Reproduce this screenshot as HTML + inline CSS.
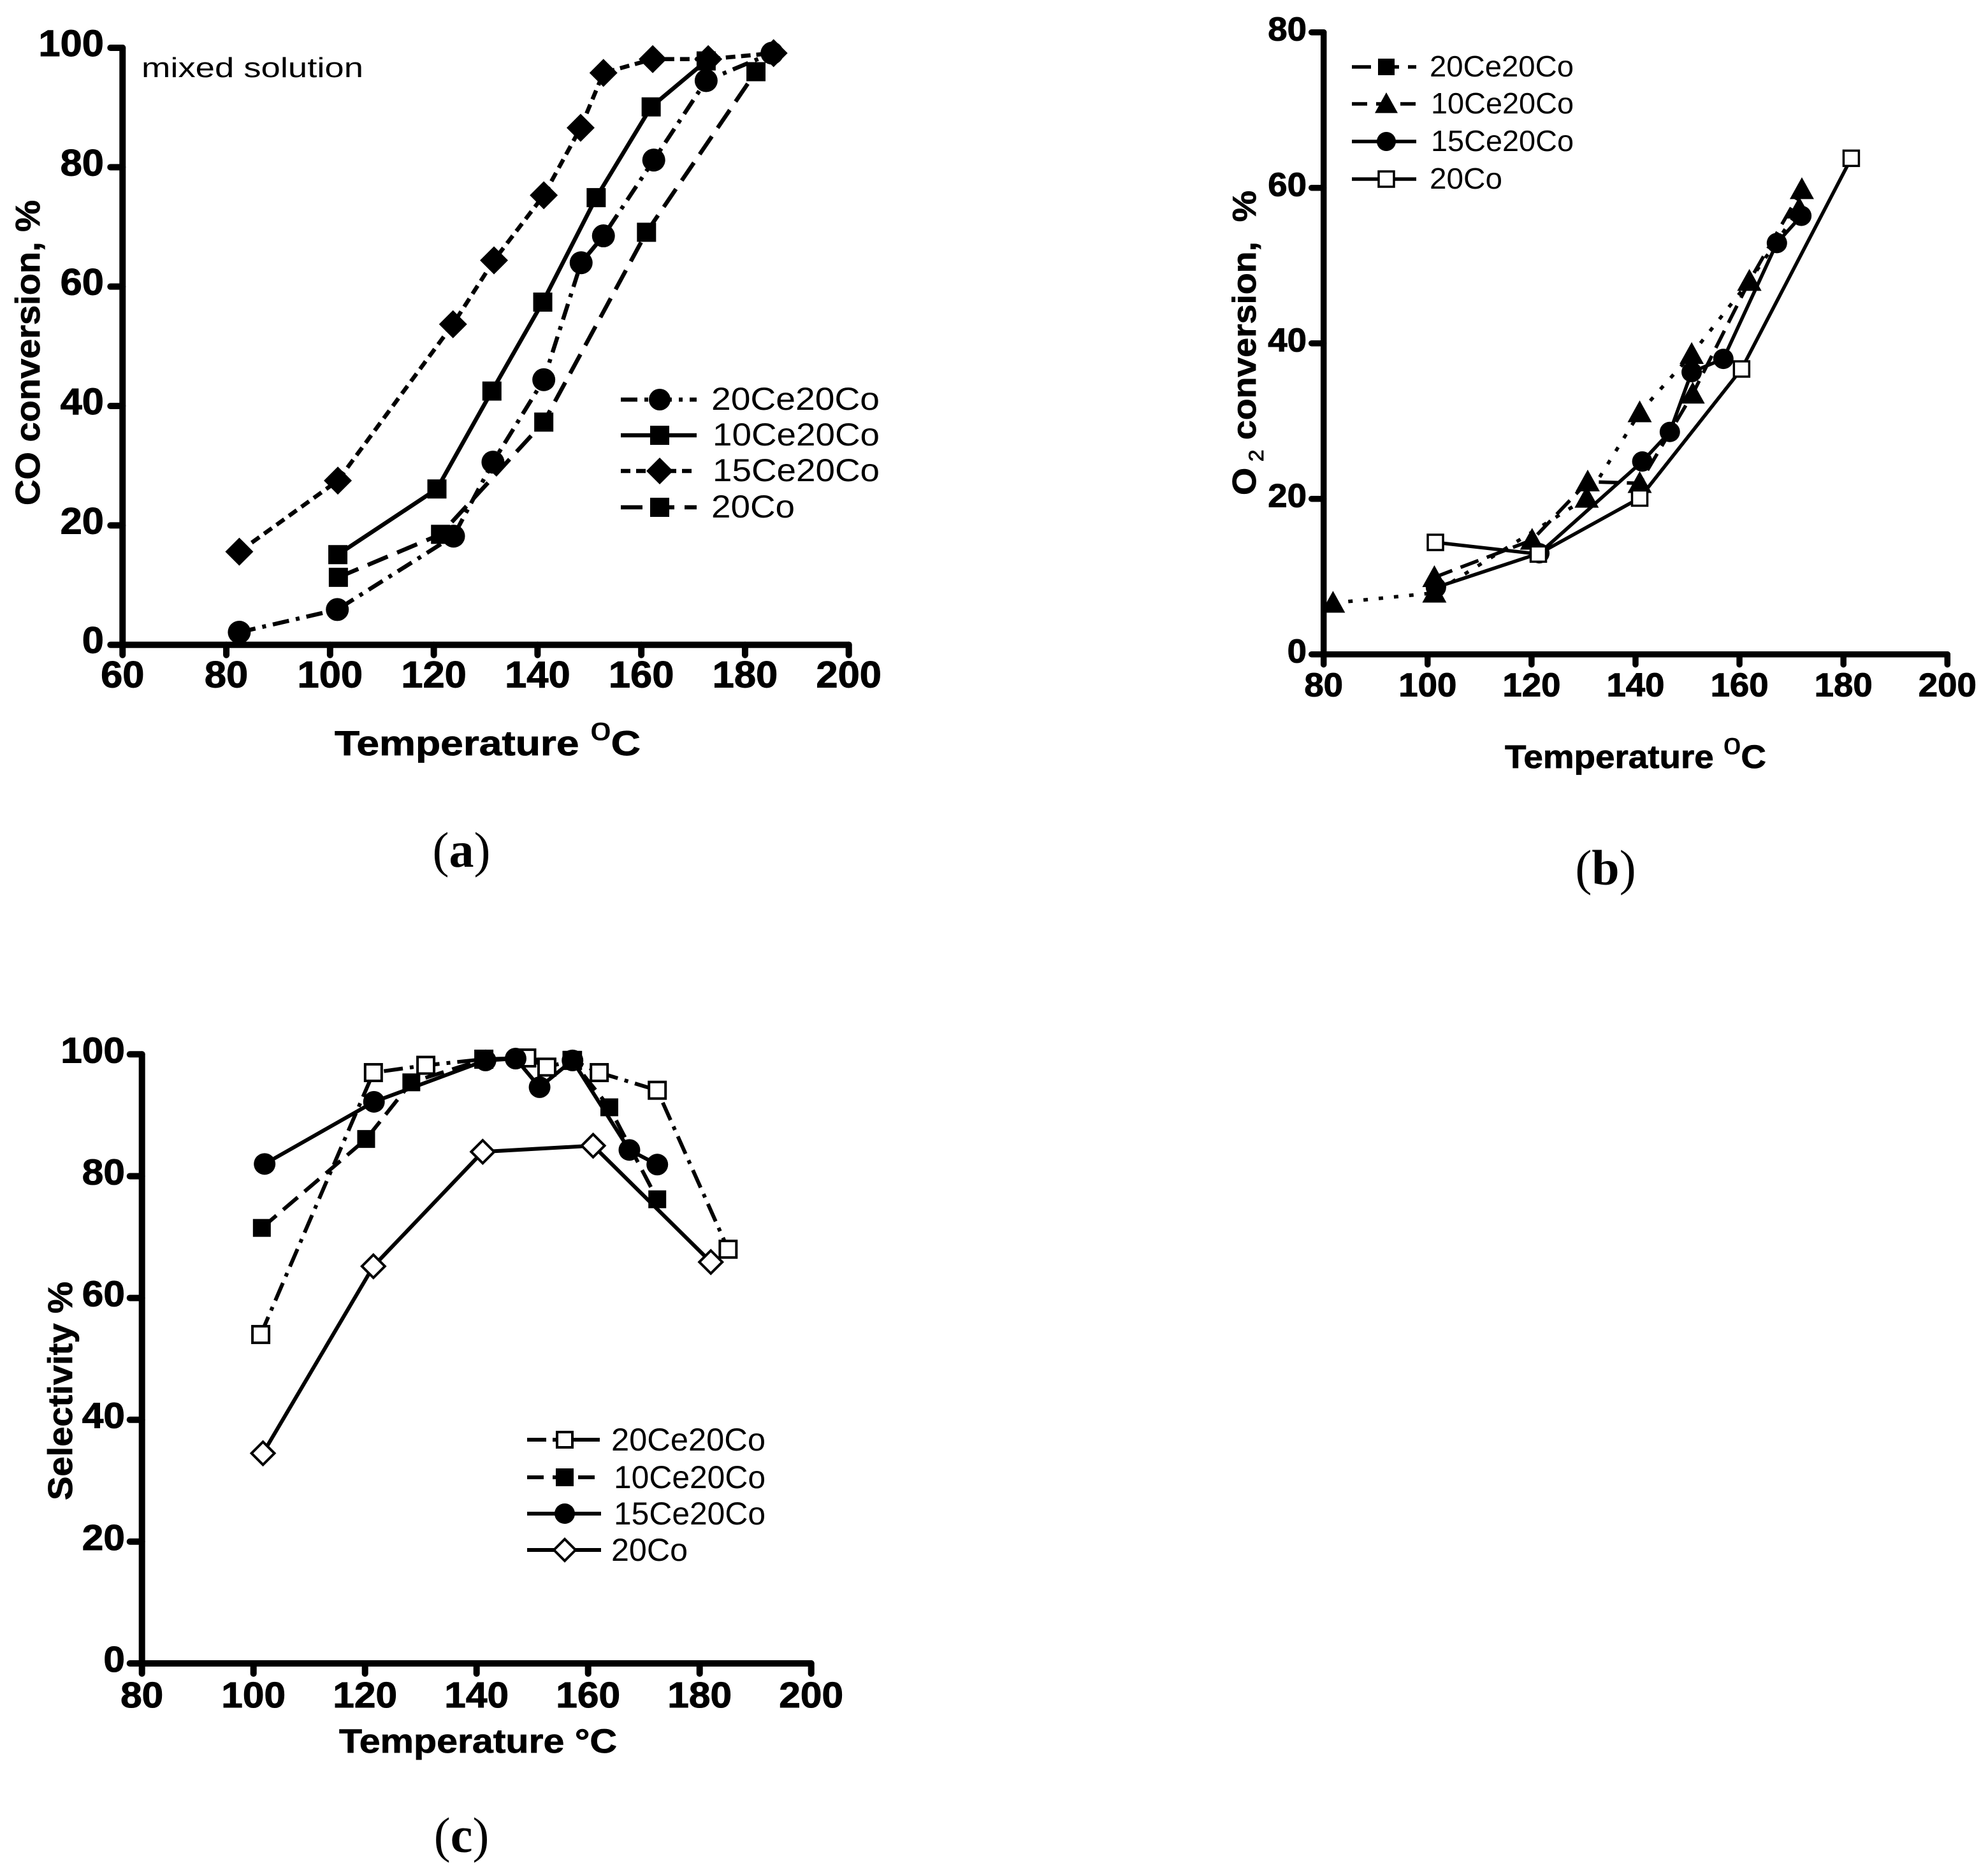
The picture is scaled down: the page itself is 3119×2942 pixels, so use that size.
<!DOCTYPE html>
<html lang="en">
<head>
<meta charset="utf-8">
<title>CO conversion, O2 conversion and selectivity charts</title>
<style>
html,body{margin:0;padding:0;background:#fff;}
svg{display:block;}
text{fill:#000;font-family:"Liberation Sans",sans-serif;}
.title{font-weight:bold;stroke:#000;stroke-width:0.8px;}
.leg{font-weight:normal;}
.cap{font-family:"Liberation Serif",serif;font-size:78px;}
</style>
</head>
<body>
<svg id="figure" xmlns="http://www.w3.org/2000/svg" width="3119" height="2942" viewBox="0 0 3119 2942">
  <rect x="0" y="0" width="3119" height="2942" fill="#fff"/>

  <g id="panel-a">
    <text x="222" y="121" font-size="44" textLength="348" lengthAdjust="spacingAndGlyphs">mixed solution</text>
    <text class="title" x="525" y="1185" font-size="55" textLength="480" lengthAdjust="spacingAndGlyphs">Temperature <tspan dy="-24" font-weight="normal" font-size="50">o</tspan><tspan dy="24">C</tspan></text>
    <text class="title" transform="translate(62,793) rotate(-90)" font-size="54" textLength="479" lengthAdjust="spacingAndGlyphs">CO conversion, %</text>
    <text class="cap" x="724" y="1360" text-anchor="middle">(<tspan font-weight="bold">a</tspan>)</text>
    <g>
      <text class="leg" x="1116" y="643" font-size="50" textLength="264" lengthAdjust="spacingAndGlyphs">20Ce20Co</text>
      <text class="leg" x="1118" y="699" font-size="50" textLength="262" lengthAdjust="spacingAndGlyphs">10Ce20Co</text>
      <text class="leg" x="1118" y="755" font-size="50" textLength="262" lengthAdjust="spacingAndGlyphs">15Ce20Co</text>
      <text class="leg" x="1116" y="812" font-size="50" textLength="131" lengthAdjust="spacingAndGlyphs">20Co</text>
    </g>
  </g>

  <g id="panel-b">
    <text class="title" x="2361" y="1205" font-size="51" textLength="410" lengthAdjust="spacingAndGlyphs">Temperature <tspan dy="-22" font-weight="normal" font-size="46">o</tspan><tspan dy="22">C</tspan></text>
    <text class="title" transform="translate(1970,777) rotate(-90)" font-size="52" textLength="478" lengthAdjust="spacingAndGlyphs" xml:space="preserve">O<tspan dy="12" font-size="32" font-weight="normal"> 2</tspan><tspan dy="-12"> conversion,  %</tspan></text>
    <text class="cap" x="2519" y="1388" text-anchor="middle">(<tspan font-weight="bold">b</tspan>)</text>
    <g>
      <text class="leg" x="2243" y="120" font-size="46" textLength="226" lengthAdjust="spacingAndGlyphs">20Ce20Co</text>
      <text class="leg" x="2245" y="178" font-size="46" textLength="224" lengthAdjust="spacingAndGlyphs">10Ce20Co</text>
      <text class="leg" x="2245" y="237" font-size="46" textLength="224" lengthAdjust="spacingAndGlyphs">15Ce20Co</text>
      <text class="leg" x="2243" y="296" font-size="46" textLength="114" lengthAdjust="spacingAndGlyphs">20Co</text>
    </g>
  </g>

  <g id="panel-c">
    <text class="title" x="532" y="2750" font-size="53" textLength="436" lengthAdjust="spacingAndGlyphs">Temperature °C</text>
    <text class="title" transform="translate(113,2354) rotate(-90)" font-size="54" textLength="343" lengthAdjust="spacingAndGlyphs">Selectivity %</text>
    <text class="cap" x="724" y="2906" text-anchor="middle">(<tspan font-weight="bold">c</tspan>)</text>
    <g>
      <text class="leg" x="959" y="2276" font-size="50" textLength="242" lengthAdjust="spacingAndGlyphs">20Ce20Co</text>
      <text class="leg" x="963" y="2335" font-size="50" textLength="238" lengthAdjust="spacingAndGlyphs">10Ce20Co</text>
      <text class="leg" x="963" y="2392" font-size="50" textLength="238" lengthAdjust="spacingAndGlyphs">15Ce20Co</text>
      <text class="leg" x="959" y="2449" font-size="50" textLength="120" lengthAdjust="spacingAndGlyphs">20Co</text>
    </g>
  </g>
</svg>

<script>
// ---- Panel (a) data ----
const aXTicks = [60, 80, 100, 120, 140, 160, 180, 200];
const aYTicks = [0, 20, 40, 60, 80, 100];
const a20CeTemp = [82.5, 101.4, 123.8, 131.4, 141.2, 148.4, 152.7, 162.4, 172.5, 185.2];
const a20CeConv = [2.1, 5.9, 18.2, 30.6, 44.4, 64, 68.5, 81.2, 94.5, 99.1];
const a10CeTemp = [101.5, 120.6, 131.2, 141, 151.3, 161.9, 172.5];
const a10CeConv = [15.1, 26.1, 42.5, 57.4, 74.9, 90.1, 97.8];
const a15CeTemp = [82.5, 101.5, 123.7, 131.6, 141.2, 148.3, 152.7, 162.2, 172.9, 185.5];
const a15CeConv = [15.6, 27.5, 53.7, 64.4, 75.3, 86.6, 95.8, 98.1, 98.1, 99.1];
const a20CoTemp = [101.6, 121.3, 141.2, 161, 182.1];
const a20CoConv = [11.3, 18.5, 37.3, 69.1, 96];

// ---- Panel (b) data ----
const bXTicks = [80, 100, 120, 140, 160, 180, 200];
const bYTicks = [0, 20, 40, 60, 80];
const b20CeTemp = [101.3, 120.1, 130.8, 140.8, 151, 161.9, 172];
const b20CeConv = [9.9, 14.7, 22.2, 22, 33.5, 48, 59.8];
const b10CeTemp = [81.8, 101.3, 130.6, 140.8, 150.8, 161.9, 171.5];
const b10CeConv = [6.6, 7.9, 20.1, 31.1, 38.6, 48, 57.3];
const b15CeTemp = [101.6, 121.5, 141.3, 146.6, 150.8, 156.9, 167.2, 171.9];
const b15CeConv = [8.6, 13, 24.8, 28.6, 36.3, 38, 52.9, 56.4];
const b20CoTemp = [101.5, 121.3, 140.8, 160.4, 181.5];
const b20CoConv = [14.4, 12.9, 20.1, 36.7, 63.8];

// ---- Panel (c) data ----
const cXTicks = [80, 100, 120, 140, 160, 180, 200];
const cYTicks = [0, 20, 40, 60, 80, 100];
const c20CeTemp = [101.3, 121.5, 130.9, 141.3, 149, 152.6, 157.2, 162, 172.4, 185.1];
const c20CeSel = [54, 97, 98.2, 99.2, 99.4, 97.9, 99, 97, 94.1, 68];
const c10CeTemp = [101.5, 120.2, 128.3, 141.3, 157, 163.8, 172.4];
const c10CeSel = [71.5, 86.1, 95.4, 99.2, 99.1, 91.3, 76.2];
const c15CeTemp = [102, 121.6, 141.6, 147, 151.3, 157.2, 167.4, 172.4];
const c15CeSel = [82, 92.2, 99, 99.3, 94.6, 99, 84.3, 81.9];
const c20CoTemp = [101.7, 121.5, 141.1, 160.9, 182];
const c20CoSel = [34.5, 65.2, 84, 85, 65.9];

const SVGNS = 'http://www.w3.org/2000/svg';
function make(tag, attrs, parent) {
  const el = document.createElementNS(SVGNS, tag);
  for (const k in attrs) el.setAttribute(k, attrs[k]);
  parent.appendChild(el);
  return el;
}

function drawMarker(kind, cx, cy, size, sw, parent) {
  let el;
  if (kind === 'circle') {
    el = make('ellipse', {cx: cx, cy: cy, rx: size, ry: size, fill: '#000'}, parent);
  } else if (kind === 'square' || kind === 'open-square') {
    const open = kind === 'open-square';
    el = make('rect', {x: cx - size, y: cy - size, width: 2 * size, height: 2 * size,
      fill: open ? '#fff' : '#000', stroke: open ? '#000' : 'none', 'stroke-width': open ? sw : 0}, parent);
  } else if (kind === 'diamond' || kind === 'open-diamond') {
    const open = kind === 'open-diamond';
    el = make('polygon', {points: (cx - size) + ',' + cy + ' ' + cx + ',' + (cy - size) + ' ' + (cx + size) + ',' + cy + ' ' + cx + ',' + (cy + size),
      fill: open ? '#fff' : '#000', stroke: open ? '#000' : 'none', 'stroke-width': open ? sw : 0}, parent);
  } else {
    el = make('polygon', {points: (cx - size) + ',' + (cy + size * 0.8) + ' ' + cx + ',' + (cy - size) + ' ' + (cx + size) + ',' + (cy + size * 0.8), fill: '#000'}, parent);
  }
  
  
  return el;
}

function drawPanel(p) {
  const root = document.getElementById(p.id);
  const sx = v => p.x0 + (v - p.xTicks[0]) / (p.xTicks[p.xTicks.length - 1] - p.xTicks[0]) * (p.x1 - p.x0);
  const sy = v => p.y0 - (v - p.yTicks[0]) / (p.yTicks[p.yTicks.length - 1] - p.yTicks[0]) * (p.y0 - p.y1);
  const labelLen = v => String(v).length * 0.556 * p.tickFont * p.tickStretch;

  // axes
  const xAxis = make('line', {x1: p.x0, y1: p.y0, x2: p.x1, y2: p.y0, stroke: '#000', 'stroke-width': p.axisW, 'stroke-linecap': 'round'}, root);
  
  
  const yAxis = make('line', {x1: p.x0, y1: p.y0, x2: p.x0, y2: p.y1, stroke: '#000', 'stroke-width': p.axisW, 'stroke-linecap': 'round'}, root);
  
  

  p.xTicks.forEach(v => {
    const t = make('line', {x1: sx(v), y1: p.y0, x2: sx(v), y2: p.y0 + 16, stroke: '#000', 'stroke-width': p.axisW, 'stroke-linecap': 'round'}, root);
    
    
    const l = make('text', {x: sx(v) - labelLen(v) / 2, y: p.y0 + p.xLabelDy, 'font-size': p.tickFont, 'font-weight': 'bold', stroke: '#000', 'stroke-width': 1, textLength: labelLen(v), lengthAdjust: 'spacingAndGlyphs'}, root);
    l.textContent = v;
    
    
  });
  p.yTicks.forEach(v => {
    const t = make('line', {x1: p.x0, y1: sy(v), x2: p.x0 - 19, y2: sy(v), stroke: '#000', 'stroke-width': p.axisW, 'stroke-linecap': 'round'}, root);
    
    
    const l = make('text', {x: p.yLabelX - labelLen(v), y: sy(v) + 13, 'font-size': p.tickFont, 'font-weight': 'bold', stroke: '#000', 'stroke-width': 1, textLength: labelLen(v), lengthAdjust: 'spacingAndGlyphs'}, root);
    l.textContent = v;
    
    
  });

  // series lines first, then markers
  p.series.forEach(s => {
    const pts = s.x.map((v, i) => sx(v) + ',' + sy(s.y[i])).join(' ');
    const line = make('polyline', {points: pts, fill: 'none', stroke: '#000', 'stroke-width': p.lineW, 'stroke-dasharray': s.dash || 'none', 'stroke-linejoin': 'round'}, root);
    
    
  });
  p.series.forEach(s => {
    const g = make('g', {}, root);
    
    
    s.x.forEach((v, i) => drawMarker(s.marker, sx(v), sy(s.y[i]), s.size, p.openW, g));
  });

  // legend swatches
  p.legendRows.forEach((row, i) => {
    const s = p.legendStyle[i];
    const ln = make('line', {x1: p.legX0, y1: row, x2: p.legX1, y2: row, stroke: '#000', 'stroke-width': p.lineW, 'stroke-dasharray': s.dash || 'none'}, root);
    
    
    drawMarker(s.marker, p.legM, row, s.size, p.openW, root);
  });
}

drawPanel({
  id: 'panel-a', x0: 192.3, x1: 1331.7, y0: 1011.7, y1: 75, axisW: 10, lineW: 6.5, openW: 4,
  xTicks: aXTicks, yTicks: aYTicks, tickFont: 58, tickStretch: 1.06, xLabelDy: 67, yLabelX: 163,
  series: [
    {key: '20co', x: a20CoTemp, y: a20CoConv, marker: 'square', size: 15, dash: '34 16'},
    {key: '15ce20co', x: a15CeTemp, y: a15CeConv, marker: 'diamond', size: 22, dash: '15 9'},
    {key: '10ce20co', x: a10CeTemp, y: a10CeConv, marker: 'square', size: 15, dash: ''},
    {key: '20ce20co', x: a20CeTemp, y: a20CeConv, marker: 'circle', size: 18, dash: '26 11 6 11'}
  ],
  legendRows: [627, 683, 739, 796], legX0: 974, legX1: 1093, legM: 1035,
  legendStyle: [
    {marker: 'circle', size: 17, dash: '26 11 6 11'},
    {marker: 'square', size: 15, dash: ''},
    {marker: 'diamond', size: 21, dash: '15 9'},
    {marker: 'square', size: 15, dash: '34 16'}
  ]
});

drawPanel({
  id: 'panel-b', x0: 2076.7, x1: 3055.3, y0: 1026.7, y1: 50.7, axisW: 9.5, lineW: 5.5, openW: 3.5,
  xTicks: bXTicks, yTicks: bYTicks, tickFont: 52, tickStretch: 1.05, xLabelDy: 66, yLabelX: 2050,
  series: [
    {key: '20ce20co', x: b20CeTemp, y: b20CeConv, marker: 'triangle', size: 19, dash: '30 14'},
    {key: '10ce20co', x: b10CeTemp, y: b10CeConv, marker: 'triangle', size: 19, dash: '7 17'},
    {key: '15ce20co', x: b15CeTemp, y: b15CeConv, marker: 'circle', size: 16, dash: ''},
    {key: '20co', x: b20CoTemp, y: b20CoConv, marker: 'open-square', size: 12, dash: ''}
  ],
  legendRows: [105, 163, 222, 281], legX0: 2121, legX1: 2222, legM: 2175,
  legendStyle: [
    {marker: 'square', size: 13, dash: '30 14'},
    {marker: 'triangle', size: 18, dash: '24 14'},
    {marker: 'circle', size: 15, dash: ''},
    {marker: 'open-square', size: 12, dash: ''}
  ]
});

drawPanel({
  id: 'panel-c', x0: 222.7, x1: 1272.7, y0: 2610, y1: 1654.3, axisW: 10, lineW: 6, openW: 4,
  xTicks: cXTicks, yTicks: cYTicks, tickFont: 57, tickStretch: 1.06, xLabelDy: 69, yLabelX: 196,
  series: [
    {key: '20ce20co', x: c20CeTemp, y: c20CeSel, marker: 'open-square', size: 13, dash: '30 11 6 11'},
    {key: '10ce20co', x: c10CeTemp, y: c10CeSel, marker: 'square', size: 14, dash: '30 14'},
    {key: '15ce20co', x: c15CeTemp, y: c15CeSel, marker: 'circle', size: 17, dash: ''},
    {key: '20co', x: c20CoTemp, y: c20CoSel, marker: 'open-diamond', size: 18, dash: ''}
  ],
  legendRows: [2259, 2318, 2375, 2432], legX0: 827, legX1: 943, legM: 886,
  legendStyle: [
    {marker: 'open-square', size: 12, dash: '30 10 44 0'},
    {marker: 'square', size: 14, dash: '26 14'},
    {marker: 'circle', size: 16, dash: ''},
    {marker: 'open-diamond', size: 17, dash: ''}
  ]
});
</script>
</body>
</html>
